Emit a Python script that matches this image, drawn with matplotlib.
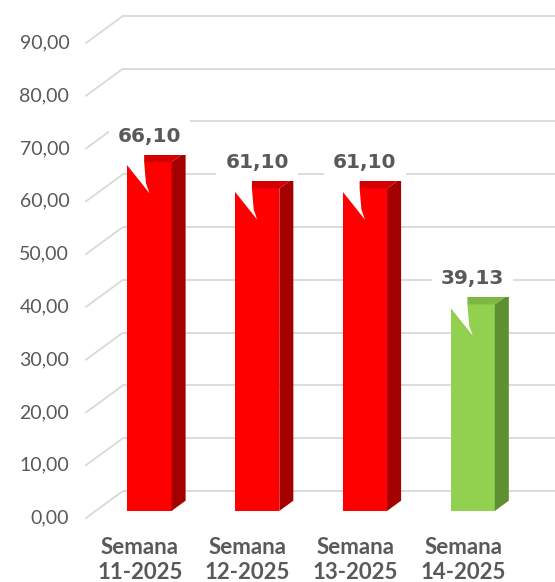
import matplotlib.pyplot as plt
from matplotlib.patches import Polygon, Rectangle

weeks = ["Semana\n11-2025", "Semana\n12-2025", "Semana\n13-2025", "Semana\n14-2025"]
values = [66.10, 61.10, 61.10, 39.13]
status = ["bad", "bad", "bad", "good"]
yticks = [0, 10, 20, 30, 40, 50, 60, 70, 80, 90]

# face colours: front, top, side
palette = {"bad": ("#FF0000", "#D40000", "#A50000"),
           "good": ("#92D050", "#7DB843", "#5E8F31")}
grid_c = "#D9D9D9"
text_c = "#595959"

# fake 3D geometry (category units / value units)
DX, DY = 0.343, 5.12     # depth of the back wall
f0, f1 = 0.26, 0.64       # bar position in the depth
w = 0.41

fig = plt.figure(figsize=(5.55, 5.82), dpi=100)
ax = fig.add_axes([0, 0, 1, 1])
ax.set_xlim(-1.298, 3.853)
ax.set_ylim(-12.13, 98.14)
ax.axis("off")

# gridlines: front diagonal + back wall horizontal
for v in yticks:
    ax.plot([-0.5, -0.5 + DX], [v, v + DY], color=grid_c, lw=1.3, zorder=1)
    ax.plot([-0.5 + DX, 3.853], [v + DY, v + DY], color=grid_c, lw=1.3, zorder=1)
    ax.text(-0.655, v, f"{v:.2f}".replace(".", ","), ha="right", va="center",
            fontsize=14, family="Lato", color=text_c)

dd = f1 - f0
for i, (v, s) in enumerate(zip(values, status)):
    front, top_c, side_c = palette[s]
    xl = i - w / 2 + f0 * DX
    xr = i + w / 2 + f0 * DX
    yb = f0 * DY
    yt = v + f0 * DY
    ox, oy = dd * DX, dd * DY
    ax.add_patch(Rectangle((xl, yb), w, v, facecolor=front, edgecolor="none", zorder=3))
    ax.add_patch(Polygon([(xr, yb), (xr + ox, yb + oy), (xr + ox, yt + oy), (xr, yt)],
                         facecolor=side_c, edgecolor="none", zorder=3))
    ax.add_patch(Polygon([(xl, yt), (xr, yt), (xr + ox, yt + oy), (xl + ox, yt + oy)],
                         facecolor=top_c, edgecolor="none", zorder=3))
    # callout pointer cut into the bar
    ax.add_patch(Polygon([(xl - 0.01, yt + oy + 0.3), (xl + 0.38 * w, yt + oy + 0.3),
                          (xl + 0.38 * w, yt), (xl + 0.42 * w, yt - 4.0),
                          (xl + 0.5 * w, yt - 5.9), (xl - 0.01, yt - 0.4)],
                         facecolor="white", edgecolor="none", zorder=4))
    ax.text(i + f0 * DX, yt + 4.9, f"{v:.2f}".replace(".", ","), ha="center", va="center",
            fontsize=14.5, fontweight="bold", family="DejaVu Sans", color=text_c, zorder=5,
            bbox=dict(boxstyle="square,pad=0.45", facecolor="white", edgecolor="none"))
    ax.text(i, -7.96, weeks[i], ha="center", va="center", fontsize=16, fontweight="bold",
            family="Lato", color=text_c, linespacing=1.2)

fig.savefig("out.png", dpi=100)
